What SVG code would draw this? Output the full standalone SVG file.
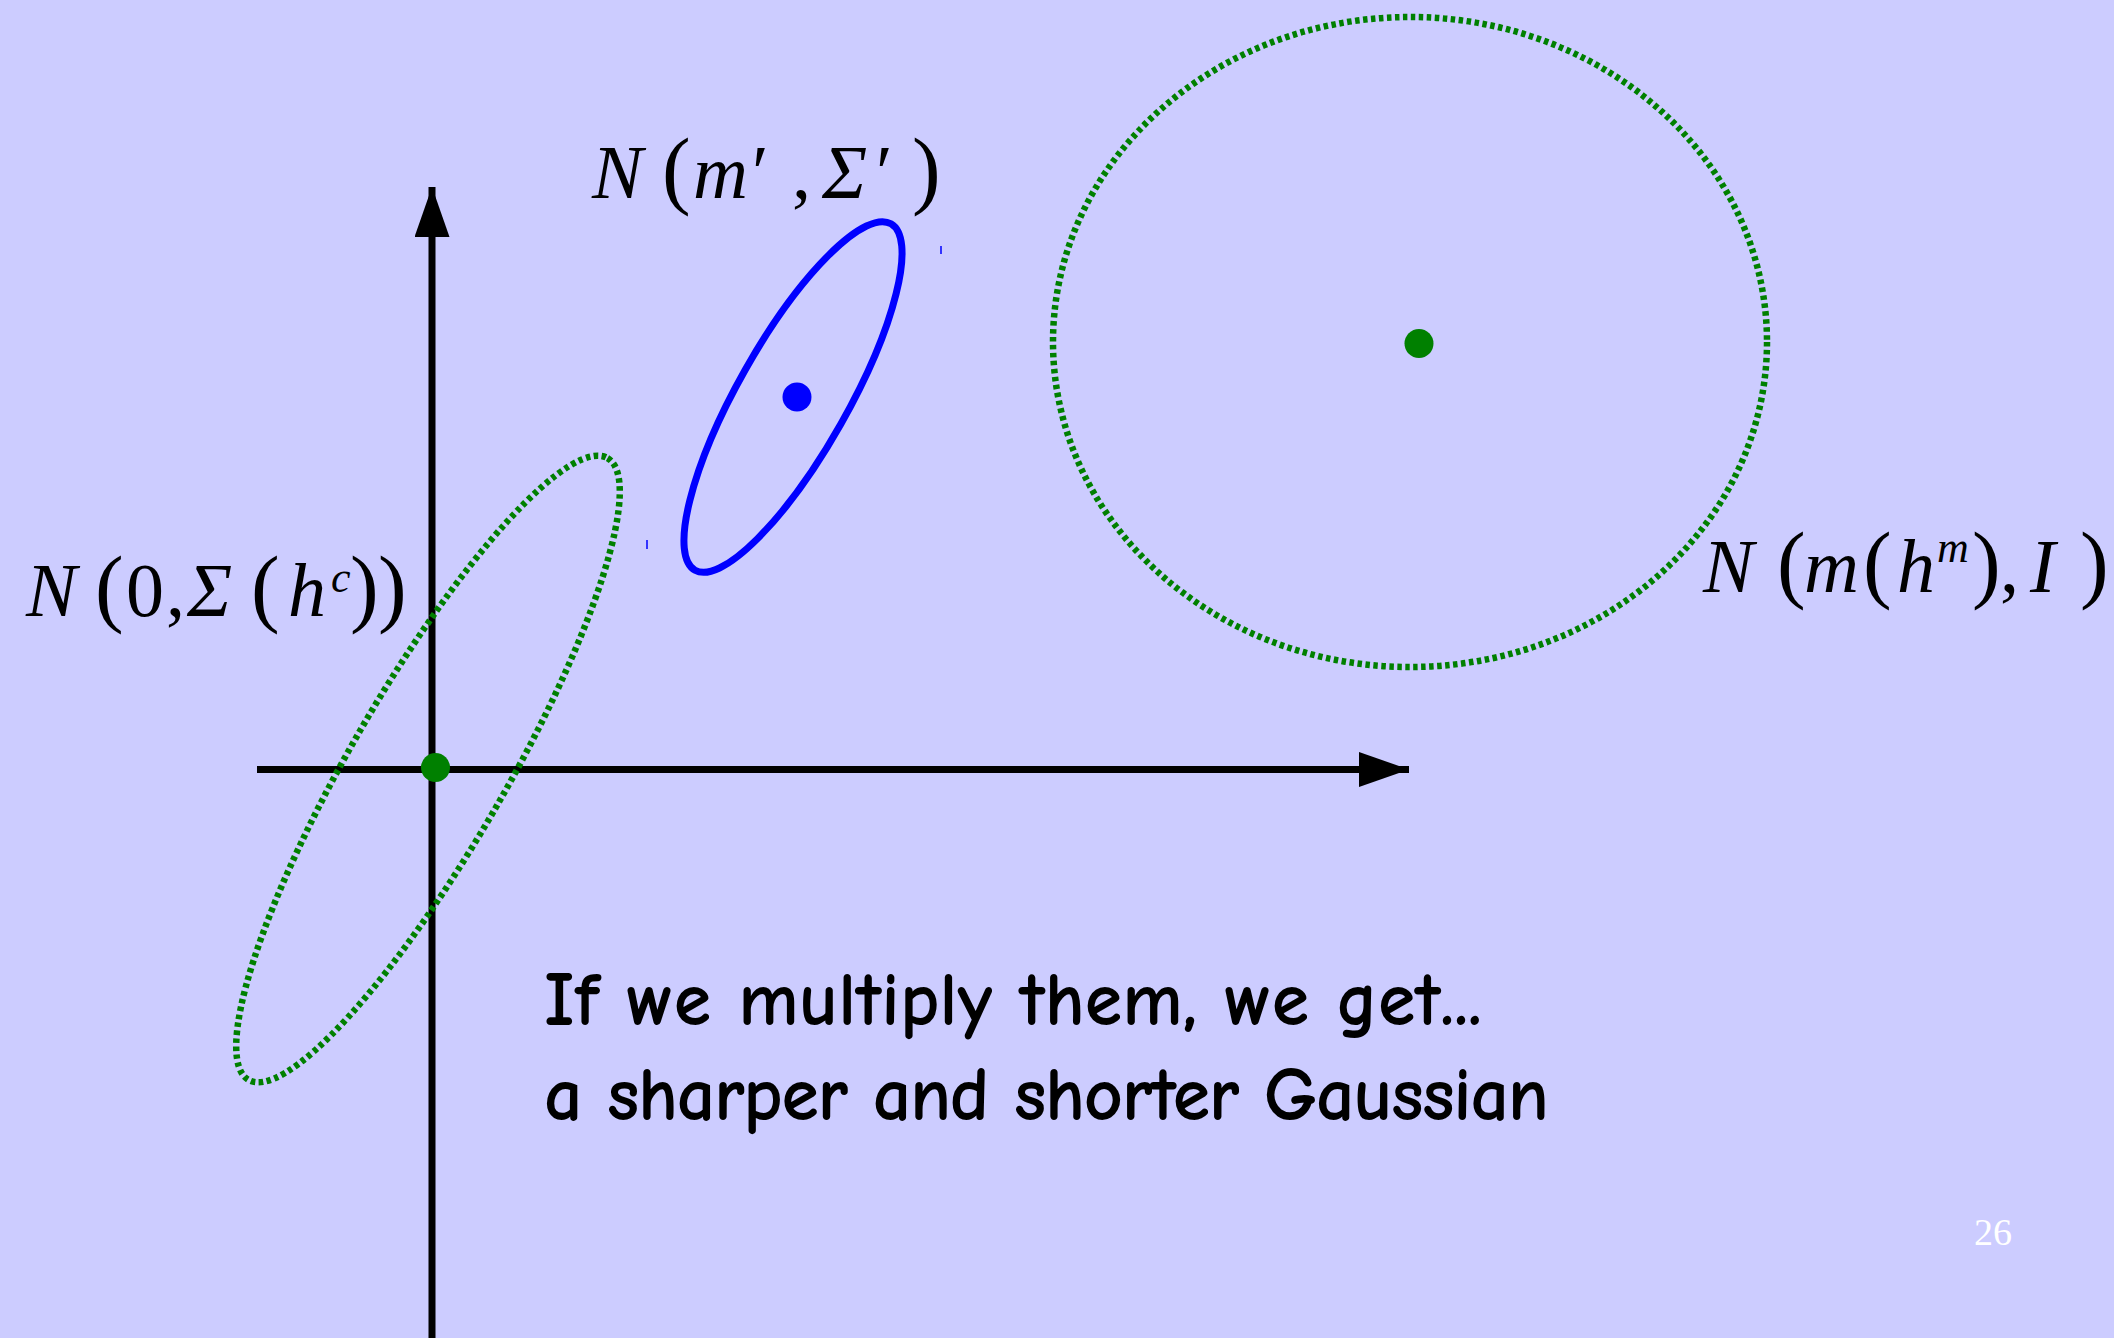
<svg xmlns="http://www.w3.org/2000/svg" width="2114" height="1338" viewBox="0 0 2114 1338">
  <style>
    .axis { stroke: #000; stroke-width: 7; fill: none; }
    .dotted { fill: none; stroke: #008000; stroke-width: 6.5; stroke-dasharray: 4.5 3.5; }
    .blue { fill: none; stroke: #0000FF; stroke-width: 7; }
    .math { font-family: "Liberation Serif", "Times New Roman", serif; font-size: 76px; fill: #000; }
    .it { font-style: italic; }
    .p { font-size: 86px; font-style: normal; }
    .sup { font-size: 44px; font-style: italic; }
    .body { font-family: "Comic Sans MS", "Comic Neue", "Noto Sans", sans-serif; font-size: 76px; font-weight: bold; fill: #000; }
  </style>
  <defs>
    <marker id="arrow" viewBox="0 0 50 35" refX="50" refY="17.5" markerWidth="50" markerHeight="35" markerUnits="userSpaceOnUse" orient="auto">
      <path d="M0,0 L50,17.5 L0,35 Z" fill="#000"/>
    </marker>
  </defs>
  <rect x="0" y="0" width="2114" height="1338" fill="#CCCCFF"/>

  <g id="connectors">
    <line id="y-axis" class="axis" x1="432" y1="1338" x2="432" y2="187" marker-end="url(#arrow)"/>
    <line id="x-axis" class="axis" x1="257" y1="769.5" x2="1409" y2="769.5" marker-end="url(#arrow)"/>
  </g>

  <g id="prior">
    <ellipse class="dotted" cx="428" cy="769" rx="359" ry="78" transform="rotate(-60 428 769)"/>
    <circle cx="435.5" cy="767.5" r="14.5" fill="#008000"/>
  </g>

  <g id="posterior">
    <ellipse class="blue" cx="793" cy="397" rx="199" ry="55" transform="rotate(-60.5 793 397)"/>
    <circle cx="797" cy="397" r="14.5" fill="#0000FF"/>
    <line x1="941" y1="246" x2="941" y2="254" stroke="#3333FF" stroke-width="2"/>
    <line x1="647" y1="540" x2="647" y2="549" stroke="#3333FF" stroke-width="2"/>
  </g>

  <g id="likelihood">
    <ellipse class="dotted" cx="1410" cy="342" rx="357" ry="325"/>
    <circle cx="1419" cy="343.5" r="14.5" fill="#008000"/>
  </g>

  <g id="label-posterior">
    <text class="math" y="198"><tspan class="it" x="592">N</tspan><tspan class="p" x="662">(</tspan><tspan class="it" x="693">m</tspan><tspan x="752">′</tspan><tspan x="792">,</tspan><tspan class="it" x="822">Σ</tspan><tspan x="876">′</tspan><tspan class="p" x="912">)</tspan></text>
  </g>

  <g id="label-prior">
    <text class="math" y="616"><tspan class="it" x="26">N</tspan><tspan class="p" x="95">(</tspan><tspan x="126">0</tspan><tspan x="166">,</tspan><tspan class="it" x="187">Σ</tspan><tspan class="p" x="251">(</tspan><tspan class="it" x="288">h</tspan><tspan class="sup" x="331" y="592">c</tspan><tspan class="p" x="350" y="616">)</tspan><tspan class="p" x="378">)</tspan></text>
  </g>

  <g id="label-likelihood">
    <text class="math" y="592"><tspan class="it" x="1703">N</tspan><tspan class="p" x="1777">(</tspan><tspan class="it" x="1804">m</tspan><tspan class="p" x="1863">(</tspan><tspan class="it" x="1897">h</tspan><tspan class="sup" x="1937" y="562">m</tspan><tspan class="p" x="1972" y="592">)</tspan><tspan x="2000">,</tspan><tspan class="it" x="2030">I</tspan><tspan class="p" x="2080">)</tspan></text>
  </g>

  <g id="caption">
    <text class="body" x="544" y="1025" textLength="938">If we multiply them, we get...</text>
    <text class="body" x="544" y="1120" textLength="1005">a sharper and shorter Gaussian</text>
  </g>

  <g id="page-number">
    <text x="1974" y="1245" font-family="Liberation Serif, serif" font-size="38" fill="#FFFFFF">26</text>
  </g>
</svg>
